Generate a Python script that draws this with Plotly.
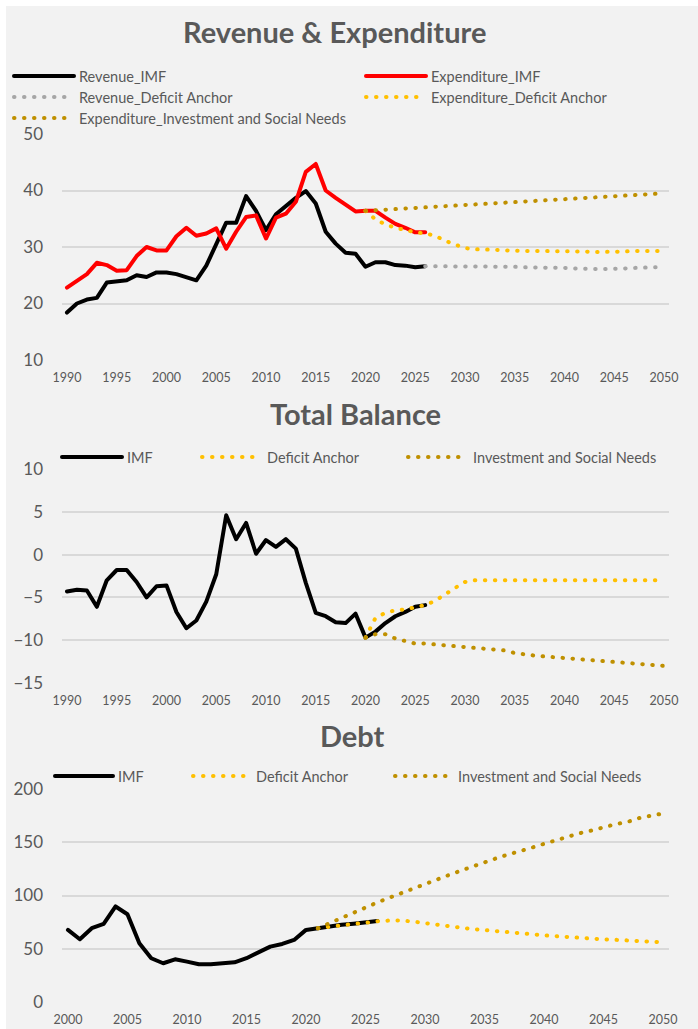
import plotly.graph_objects as go

W, H = 698, 1029

# ---------------- Revenue & Expenditure (% of GDP) ----------------
years_hist = list(range(1990, 2027))
revenue_imf = [18.4, 20.0, 20.7, 21.0, 23.7, 23.9, 24.1, 25.0, 24.7, 25.5,
               25.5, 25.2, 24.6, 24.1, 26.7, 30.6, 34.3, 34.3, 39.0, 36.4,
               33.0, 35.8, 37.3, 38.7, 39.9, 37.7, 32.7, 30.6, 29.0, 28.8,
               26.5, 27.3, 27.3, 26.8, 26.7, 26.4, 26.6]
expenditure_imf = [22.8, 24.1, 25.2, 27.2, 26.8, 25.8, 25.9, 28.4, 30.0, 29.4,
                   29.4, 31.9, 33.4, 32.0, 32.4, 33.3, 29.7, 32.7, 35.3, 35.6,
                   31.5, 35.2, 35.9, 38.0, 43.3, 44.7, 40.0, 38.7, 37.4, 36.3,
                   36.4, 36.4, 35.2, 34.1, 33.4, 32.6, 32.6]

years_rev_proj = list(range(2026, 2051))
revenue_deficit_anchor = [26.6, 26.6, 26.6, 26.6, 26.6, 26.6, 26.6, 26.5, 26.5, 26.5,
                          26.4, 26.4, 26.4, 26.4, 26.3, 26.2, 26.1, 26.1, 26.1, 26.1,
                          26.2, 26.3, 26.4, 26.4, 26.4]

years_exp_proj = list(range(2020, 2051))
expenditure_deficit_anchor = [36.4, 34.9, 34.0, 33.4, 33.0, 32.6, 32.4, 32.0, 31.1, 30.4,
                              29.8, 29.6, 29.6, 29.5, 29.4, 29.3, 29.3, 29.3, 29.3, 29.3,
                              29.3, 29.3, 29.2, 29.1, 29.1, 29.1, 29.2, 29.3, 29.3, 29.3,
                              29.3]
expenditure_invest_social = [36.4, 36.5, 36.6, 36.7, 36.8, 37.0, 37.0, 37.1, 37.2, 37.3,
                             37.4, 37.6, 37.6, 37.7, 37.9, 38.0, 38.1, 38.2, 38.3, 38.4,
                             38.5, 38.6, 38.7, 38.8, 38.9, 39.0, 39.1, 39.2, 39.3, 39.4,
                             39.5]

# ---------------- Total Balance (% of GDP) ----------------
balance_imf = [-4.3, -4.1, -4.2, -6.1, -3.0, -1.8, -1.8, -3.2, -5.0, -3.7,
               -3.6, -6.7, -8.6, -7.7, -5.5, -2.3, 4.6, 1.8, 3.7, 0.1,
               1.7, 0.9, 1.8, 0.7, -3.3, -6.8, -7.2, -7.9, -8.0, -6.9,
               -9.7, -9.0, -8.0, -7.2, -6.7, -6.1, -5.9]
years_bal_proj = list(range(2020, 2051))
balance_deficit_anchor = [-9.7, -7.4, -6.8, -6.5, -6.4, -6.1, -5.9, -5.4, -4.6, -3.9,
                          -3.2, -3.0, -3.0, -3.0, -3.0, -3.0, -3.0, -3.0, -3.0, -3.0,
                          -3.0, -3.0, -3.0, -3.0, -3.0, -3.0, -3.0, -3.0, -3.0, -3.0,
                          -3.0]
balance_invest_social = [-9.7, -9.3, -9.3, -9.8, -10.1, -10.4, -10.4, -10.5, -10.6, -10.6,
                         -10.7, -10.9, -11.0, -11.1, -11.2, -11.5, -11.7, -11.8, -11.9, -12.0,
                         -12.1, -12.1, -12.2, -12.4, -12.5, -12.6, -12.7, -12.8, -12.9, -12.9,
                         -13.0]

# ---------------- Debt (% of GDP) ----------------
years_debt_hist = list(range(2000, 2027))
debt_imf = [67.7, 58.9, 69.3, 73.4, 89.7, 82.4, 55.2, 41.1, 36.4, 40.1,
            37.9, 35.4, 35.4, 36.4, 37.3, 41.1, 46.7, 52.0, 54.5, 58.3,
            67.7, 69.5, 71.0, 72.5, 73.5, 74.5, 76.0]
years_debt_proj = list(range(2021, 2051))
debt_deficit_anchor = [69.3, 70.8, 72.3, 73.3, 74.3, 75.9, 76.5, 76.5, 75.5, 74.3,
                       72.8, 71.3, 69.8, 68.5, 67.4, 66.2, 65.1, 64.0, 63.2, 62.6,
                       61.8, 60.9, 60.0, 59.4, 58.8, 58.4, 57.9, 57.3, 56.6, 56.1]
debt_invest_social = [69.3, 74.3, 79.3, 84.0, 89.0, 93.5, 97.9, 102.3, 106.9, 111.2,
                      115.0, 119.2, 123.3, 127.5, 131.1, 135.0, 138.5, 141.5, 145.0, 148.5,
                      152.0, 155.5, 158.5, 161.0, 164.3, 167.0, 169.0, 172.7, 175.0, 177.0]

BLACK = "#000000"
RED = "#ff0000"
GREY = "#a6a6a6"
YELLOW = "#ffc000"
GOLD = "#bf9000"
TEXT = "#595959"
GRID = "#d9d9d9"
PANEL = "#f2f2f2"
FONT = "Lato, 'Open Sans', sans-serif"
DOTS = "0.5px,9.5px"


def fx(px):
    return px / W


def fy(py):
    return 1 - py / H


fig = go.Figure()

# (x values, y values, name, colour, dotted, axes, legend id, sample x px, row y px, sample length)
series = [
    (years_hist, revenue_imf, "Revenue_IMF", BLACK, False, 1, "legend", 14, 76, 60),
    (years_hist, expenditure_imf, "Expenditure_IMF", RED, False, 1, "legend2", 366, 76, 60),
    (years_rev_proj, revenue_deficit_anchor, "Revenue_Deficit Anchor", GREY, True, 1, "legend3", 14, 97, 60),
    (years_exp_proj, expenditure_deficit_anchor, "Expenditure_Deficit Anchor", YELLOW, True, 1, "legend4", 366, 97, 60),
    (years_exp_proj, expenditure_invest_social, "Expenditure_Investment and Social Needs", GOLD, True, 1, "legend5", 14, 118, 60),
    (years_hist, balance_imf, "IMF", BLACK, False, 2, "legend6", 62, 457, 60),
    (years_bal_proj, balance_deficit_anchor, "Deficit Anchor", YELLOW, True, 2, "legend7", 202, 457, 60),
    (years_bal_proj, balance_invest_social, "Investment and Social Needs", GOLD, True, 2, "legend8", 408, 457, 60),
    (years_debt_hist, debt_imf, "IMF", BLACK, False, 3, "legend9", 55, 776, 58),
    (years_debt_proj, debt_deficit_anchor, "Deficit Anchor", YELLOW, True, 3, "legend10", 193, 776, 58),
    (years_debt_proj, debt_invest_social, "Investment and Social Needs", GOLD, True, 3, "legend11", 395, 776, 58),
]

legends = {}
for xs, ys, name, color, dotted, ax, leg, lx, ly, lw in series:
    suffix = "" if ax == 1 else str(ax)
    fig.add_trace(go.Scatter(
        x=xs, y=ys, name=name, mode="lines",
        line=dict(color=color, width=4, dash=DOTS if dotted else "solid"),
        xaxis="x" + suffix, yaxis="y" + suffix,
        legend=leg, hoverinfo="skip",
    ))
    legends[leg] = dict(
        xref="container", yref="container",
        x=fx(lx - 5), y=fy(ly), xanchor="left", yanchor="middle",
        bgcolor="rgba(0,0,0,0)", borderwidth=0,
        itemwidth=lw, font=dict(family=FONT, size=14.5, color=TEXT),
        tracegroupgap=0,
    )

plot_left, plot_right = fx(62), fx(669)
axis_common = dict(showline=False, zeroline=False, ticks="", color=TEXT)
xtick_font = dict(size=12.5, color=TEXT)
ytick_font = dict(size=17, color=TEXT)
title_font = dict(family=FONT, size=29, color=TEXT)

layout = dict(
    width=W, height=H,
    margin=dict(l=0, r=0, t=0, b=0, autoexpand=False),
    paper_bgcolor="white",
    plot_bgcolor="rgba(0,0,0,0)",
    font=dict(family=FONT, color=TEXT),
    showlegend=True,
    shapes=[dict(type="rect", xref="paper", yref="paper",
                 x0=fx(6), x1=1, y0=0, y1=fy(6),
                 fillcolor=PANEL, line=dict(width=0), layer="below")],
    annotations=[
        dict(text="<b>Revenue & Expenditure</b>", xref="paper", yref="paper",
             x=fx(334), y=fy(31), showarrow=False, xanchor="center", yanchor="middle",
             font=title_font),
        dict(text="<b>Total Balance</b>", xref="paper", yref="paper",
             x=fx(355), y=fy(413), showarrow=False, xanchor="center", yanchor="middle",
             font=title_font),
        dict(text="<b>Debt</b>", xref="paper", yref="paper",
             x=fx(352), y=fy(735), showarrow=False, xanchor="center", yanchor="middle",
             font=title_font),
    ],
    xaxis=dict(domain=[plot_left, plot_right], anchor="y", range=[1989.5, 2050.5],
               tickvals=list(range(1990, 2051, 5)), showgrid=False,
               tickfont=xtick_font, ticklabelstandoff=8, **axis_common),
    yaxis=dict(domain=[fy(360), fy(134)], anchor="x", range=[10, 50], dtick=10,
               gridcolor=GRID, gridwidth=1.5, tickfont=ytick_font,
               ticklabelstandoff=18, **axis_common),
    xaxis2=dict(domain=[plot_left, plot_right], anchor="y2", range=[1989.5, 2050.5],
                tickvals=list(range(1990, 2051, 5)), showgrid=False,
                tickfont=xtick_font, ticklabelstandoff=8, **axis_common),
    yaxis2=dict(domain=[fy(683), fy(469)], anchor="x2", range=[-15, 10], dtick=5,
                gridcolor=GRID, gridwidth=1.5, tickfont=ytick_font,
                ticklabelstandoff=18, **axis_common),
    xaxis3=dict(domain=[plot_left, plot_right], anchor="y3", range=[1999.5, 2050.5],
                tickvals=list(range(2000, 2051, 5)), showgrid=False,
                tickfont=xtick_font, ticklabelstandoff=8, **axis_common),
    yaxis3=dict(domain=[fy(1002), fy(789)], anchor="x3", range=[0, 200], dtick=50,
                gridcolor=GRID, gridwidth=1.5, tickfont=ytick_font,
                ticklabelstandoff=18, **axis_common),
)
layout.update(legends)
fig.update_layout(**layout)

# Round caps and joins give circular dots and smooth corners on every line.
round_caps = """
var gd = document.getElementById('{plot_id}');
function roundLines() {
  gd.querySelectorAll('path.js-line').forEach(function (p) {
    p.style.strokeLinecap = 'round';
    p.style.strokeLinejoin = 'round';
  });
}
roundLines();
gd.on('plotly_afterplot', roundLines);
"""

fig.write_html("out.html", post_script=round_caps, config={"displayModeBar": False})
